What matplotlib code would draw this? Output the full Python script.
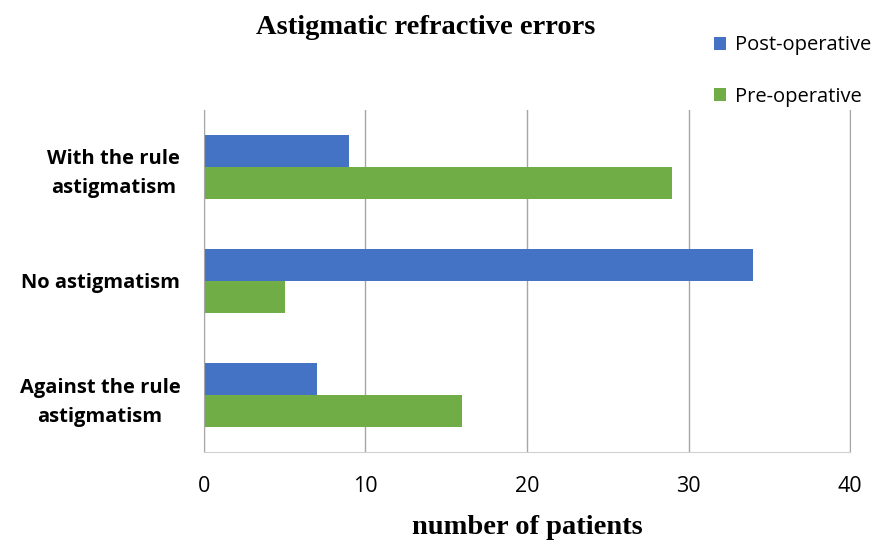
import matplotlib as mpl
import matplotlib.pyplot as plt
import numpy as np

mpl.use('Agg')

categories = ['With the rule\nastigmatism', 'No astigmatism', 'Against the rule\nastigmatism']
post_op = [9, 34, 7]
pre_op = [29, 5, 16]
xticks = [0, 10, 20, 30, 40]

fig = plt.figure(figsize=(8.86, 5.41), dpi=100)
ax = fig.add_axes([0.2302, 0.1645, 0.7292, 0.6322])

y = np.arange(len(categories))[::-1].astype(float)
h = 0.28
ax.barh(y + h / 2, post_op, height=h, color='#4472C4', label='Post-operative')
ax.barh(y - h / 2, pre_op, height=h, color='#70AD47', label='Pre-operative')

ax.set_xlim(0, 40)
ax.set_ylim(-0.5, 2.5)
ax.set_xticks(xticks)
ax.set_xticklabels([str(t) for t in xticks], fontfamily='Open Sans', fontsize=15.5)
ax.set_yticks(y)
ax.set_yticklabels(categories, fontfamily='Open Sans', fontweight='bold', fontsize=14.5,
                   multialignment='center', linespacing=1.6)
ax.tick_params(axis='x', length=0, pad=17)
ax.tick_params(axis='y', length=0, pad=17)

ax.grid(axis='x', color='#a6a6a6', linewidth=1)
ax.set_axisbelow(True)
ax.spines['top'].set_visible(False)
ax.spines['right'].set_color('#a6a6a6')
ax.spines['left'].set_color('#a6a6a6')
ax.spines['bottom'].set_color('#d0d0d0')

ax.set_xlabel('number of patients', fontfamily='Liberation Serif', fontweight='bold',
              fontsize=20.5, labelpad=13)
fig.text(0.481, 0.95, 'Astigmatic refractive errors', fontfamily='Liberation Serif',
         fontweight='bold', fontsize=20.5, ha='center', va='center')

fig.legend(loc='upper left', bbox_to_anchor=(0.785, 0.968), frameon=False,
           prop={'family': 'Open Sans', 'size': 14.5}, handlelength=0.62,
           handleheight=0.62, handletextpad=0.45, labelspacing=1.55)

fig.savefig('out.png', dpi=100)
